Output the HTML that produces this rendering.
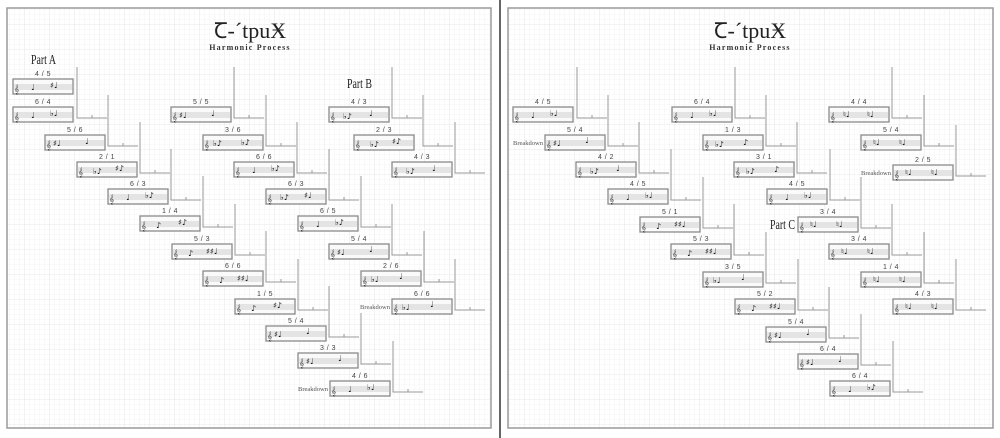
<!DOCTYPE html>
<html><head><meta charset="utf-8"><style>
html,body{margin:0;padding:0;background:#fff}
svg{display:block}
.bx{fill:#fafafa;stroke:#8a8a8a;stroke-width:1.3}
.bd{fill:#e4e4e4}
.c{font:9px "DejaVu Sans",sans-serif;fill:#333}
.n{font:bold 8px "DejaVu Sans",sans-serif;fill:#111}
.lb{font:7px "Liberation Sans",sans-serif;fill:#444;text-anchor:middle;letter-spacing:.5px}
.br{fill:none;stroke:#999;stroke-width:1}
.bk{font:6.5px "Liberation Serif",serif;fill:#555;text-anchor:end}
.pt{font:14px "Liberation Serif",serif;fill:#222}
.tt{font:22px "Liberation Serif",serif;fill:#222;text-anchor:middle}
.st{font:bold 8px "Liberation Serif",serif;fill:#333;text-anchor:middle;letter-spacing:1.2px}
</style></head><body>
<svg width="1000" height="438" viewBox="0 0 1000 438" xmlns="http://www.w3.org/2000/svg">
<defs>
<pattern id="g" width="5" height="5" patternUnits="userSpaceOnUse"><path d="M5 0V5H0" fill="none" stroke="#ececec" stroke-width=".6"/></pattern>
<pattern id="G" width="25" height="25" patternUnits="userSpaceOnUse"><rect width="25" height="25" fill="url(#g)"/><path d="M25 0V25H0" fill="none" stroke="#dedede" stroke-width=".6"/></pattern>
</defs>
<rect x="7" y="8" width="484" height="420" fill="url(#G)" stroke="#9a9a9a" stroke-width="1.5"/>
<rect x="508" y="8" width="485" height="420" fill="url(#G)" stroke="#9a9a9a" stroke-width="1.5"/>
<line x1="500" y1="0" x2="500" y2="438" stroke="#333" stroke-width="1.5"/>

<text class="tt" x="250" y="38">Ꞇ-´tpuӾ</text><text class="st" x="250" y="50">Harmonic Process</text>
<text class="tt" x="750" y="38">Ꞇ-´tpuӾ</text><text class="st" x="750" y="50">Harmonic Process</text>
<text class="pt" x="31" y="64" textLength="25" lengthAdjust="spacingAndGlyphs">Part A</text>
<text class="pt" x="347" y="88" textLength="25" lengthAdjust="spacingAndGlyphs">Part B</text>
<text class="pt" x="770" y="229" textLength="25" lengthAdjust="spacingAndGlyphs">Part C</text>

<!-- LEFT: Part A -->
<g transform="translate(13,79)"><rect class="bx" width="60" height="15"/><rect class="bd" x="1" y="5" width="58" height="6"/><text class="c" x="1" y="13">𝄞</text><text class="n" x="18" y="11">♩</text><text class="n" x="37" y="9">♯♩</text><text class="lb" x="30" y="-3">4 / 5</text></g>
<g transform="translate(13,107)"><rect class="bx" width="60" height="15"/><rect class="bd" x="1" y="5" width="58" height="6"/><text class="c" x="1" y="13">𝄞</text><text class="n" x="18" y="11">♩</text><text class="n" x="37" y="9">♭♩</text><text class="lb" x="30" y="-3">6 / 4</text><path class="br" d="M64 -40V11H94M79 11v-3"/></g>
<g transform="translate(45,135)"><rect class="bx" width="60" height="15"/><rect class="bd" x="1" y="5" width="58" height="6"/><text class="c" x="1" y="13">𝄞</text><text class="n" x="8" y="11">♯♩</text><text class="n" x="40" y="9">♩</text><text class="lb" x="30" y="-3">5 / 6</text><path class="br" d="M63 -40V11H93M78 11v-3"/></g>
<g transform="translate(77,162)"><rect class="bx" width="60" height="15"/><rect class="bd" x="1" y="5" width="58" height="6"/><text class="c" x="1" y="13">𝄞</text><text class="n" x="16" y="12">♭♪</text><text class="n" x="38" y="9">♯♪</text><text class="lb" x="30" y="-3">2 / 1</text><path class="br" d="M63 -40V11H93M78 11v-3"/></g>
<g transform="translate(108,189)"><rect class="bx" width="60" height="15"/><rect class="bd" x="1" y="5" width="58" height="6"/><text class="c" x="1" y="13">𝄞</text><text class="n" x="18" y="11">♩</text><text class="n" x="37" y="9">♭♪</text><text class="lb" x="30" y="-3">6 / 3</text><path class="br" d="M63 -40V11H93M78 11v-3"/></g>
<g transform="translate(140,216)"><rect class="bx" width="60" height="15"/><rect class="bd" x="1" y="5" width="58" height="6"/><text class="c" x="1" y="13">𝄞</text><text class="n" x="16" y="12">♪</text><text class="n" x="38" y="9">♯♪</text><text class="lb" x="30" y="-3">1 / 4</text><path class="br" d="M63 -40V11H93M78 11v-3"/></g>
<g transform="translate(172,244)"><rect class="bx" width="60" height="15"/><rect class="bd" x="1" y="5" width="58" height="6"/><text class="c" x="1" y="13">𝄞</text><text class="n" x="16" y="12">♪</text><text class="n" x="34" y="10">♯♯♩</text><text class="lb" x="30" y="-3">5 / 3</text><path class="br" d="M63 -40V11H93M78 11v-3"/></g>
<g transform="translate(203,271)"><rect class="bx" width="60" height="15"/><rect class="bd" x="1" y="5" width="58" height="6"/><text class="c" x="1" y="13">𝄞</text><text class="n" x="16" y="12">♪</text><text class="n" x="34" y="10">♯♯♩</text><text class="lb" x="30" y="-3">6 / 6</text><path class="br" d="M63 -40V11H93M78 11v-3"/></g>
<g transform="translate(235,299)"><rect class="bx" width="60" height="15"/><rect class="bd" x="1" y="5" width="58" height="6"/><text class="c" x="1" y="13">𝄞</text><text class="n" x="16" y="12">♪</text><text class="n" x="38" y="9">♯♪</text><text class="lb" x="30" y="-3">1 / 5</text><path class="br" d="M63 -40V11H93M78 11v-3"/></g>
<g transform="translate(266,326)"><rect class="bx" width="60" height="15"/><rect class="bd" x="1" y="5" width="58" height="6"/><text class="c" x="1" y="13">𝄞</text><text class="n" x="8" y="11">♯♩</text><text class="n" x="40" y="8">♩</text><text class="lb" x="30" y="-3">5 / 4</text><path class="br" d="M63 -40V11H93M78 11v-3"/></g>
<g transform="translate(298,353)"><rect class="bx" width="60" height="15"/><rect class="bd" x="1" y="5" width="58" height="6"/><text class="c" x="1" y="13">𝄞</text><text class="n" x="8" y="11">♯♩</text><text class="n" x="40" y="8">♩</text><text class="lb" x="30" y="-3">3 / 3</text><path class="br" d="M63 -40V11H93M78 11v-3"/></g>
<g transform="translate(330,381)"><rect class="bx" width="60" height="15"/><rect class="bd" x="1" y="5" width="58" height="6"/><text class="c" x="1" y="13">𝄞</text><text class="n" x="18" y="11">♩</text><text class="n" x="37" y="9">♭♩</text><text class="lb" x="30" y="-3">4 / 6</text><text class="bk" x="-2" y="10">Breakdown</text><path class="br" d="M63 -40V11H93M78 11v-3"/></g>

<!-- LEFT: Part B lower -->
<g transform="translate(171,107)"><rect class="bx" width="60" height="15"/><rect class="bd" x="1" y="5" width="58" height="6"/><text class="c" x="1" y="13">𝄞</text><text class="n" x="8" y="11">♯♩</text><text class="n" x="40" y="9">♩</text><text class="lb" x="30" y="-3">5 / 5</text><path class="br" d="M63 -40V11H93M78 11v-3"/></g>
<g transform="translate(203,135)"><rect class="bx" width="60" height="15"/><rect class="bd" x="1" y="5" width="58" height="6"/><text class="c" x="1" y="13">𝄞</text><text class="n" x="10" y="11">♭♪</text><text class="n" x="38" y="10">♭♪</text><text class="lb" x="30" y="-3">3 / 6</text><path class="br" d="M63 -40V11H93M78 11v-3"/></g>
<g transform="translate(234,162)"><rect class="bx" width="60" height="15"/><rect class="bd" x="1" y="5" width="58" height="6"/><text class="c" x="1" y="13">𝄞</text><text class="n" x="18" y="11">♩</text><text class="n" x="37" y="9">♭♪</text><text class="lb" x="30" y="-3">6 / 6</text><path class="br" d="M63 -40V11H93M78 11v-3"/></g>
<g transform="translate(266,189)"><rect class="bx" width="60" height="15"/><rect class="bd" x="1" y="5" width="58" height="6"/><text class="c" x="1" y="13">𝄞</text><text class="n" x="14" y="11">♭♪</text><text class="n" x="38" y="9">♯♩</text><text class="lb" x="30" y="-3">6 / 3</text><path class="br" d="M63 -40V11H93M78 11v-3"/></g>
<g transform="translate(298,216)"><rect class="bx" width="60" height="15"/><rect class="bd" x="1" y="5" width="58" height="6"/><text class="c" x="1" y="13">𝄞</text><text class="n" x="18" y="11">♩</text><text class="n" x="37" y="9">♭♪</text><text class="lb" x="30" y="-3">6 / 5</text><path class="br" d="M63 -40V11H93M78 11v-3"/></g>
<g transform="translate(329,244)"><rect class="bx" width="60" height="15"/><rect class="bd" x="1" y="5" width="58" height="6"/><text class="c" x="1" y="13">𝄞</text><text class="n" x="8" y="11">♯♩</text><text class="n" x="40" y="8">♩</text><text class="lb" x="30" y="-3">5 / 4</text><path class="br" d="M63 -40V11H93M78 11v-3"/></g>
<g transform="translate(361,271)"><rect class="bx" width="60" height="15"/><rect class="bd" x="1" y="5" width="58" height="6"/><text class="c" x="1" y="13">𝄞</text><text class="n" x="10" y="11">♭♩</text><text class="n" x="38" y="8">♩</text><text class="lb" x="30" y="-3">2 / 6</text><path class="br" d="M63 -40V11H93M78 11v-3"/></g>
<g transform="translate(392,299)"><rect class="bx" width="60" height="15"/><rect class="bd" x="1" y="5" width="58" height="6"/><text class="c" x="1" y="13">𝄞</text><text class="n" x="10" y="11">♭♩</text><text class="n" x="38" y="8">♩</text><text class="lb" x="30" y="-3">6 / 6</text><text class="bk" x="-2" y="10">Breakdown</text><path class="br" d="M63 -40V11H93M78 11v-3"/></g>

<!-- LEFT: Part B upper -->
<g transform="translate(329,107)"><rect class="bx" width="60" height="15"/><rect class="bd" x="1" y="5" width="58" height="6"/><text class="c" x="1" y="13">𝄞</text><text class="n" x="14" y="12">♭♪</text><text class="n" x="40" y="9">♩</text><text class="lb" x="30" y="-3">4 / 3</text><path class="br" d="M63 -40V11H93M78 11v-3"/></g>
<g transform="translate(354,135)"><rect class="bx" width="60" height="15"/><rect class="bd" x="1" y="5" width="58" height="6"/><text class="c" x="1" y="13">𝄞</text><text class="n" x="16" y="12">♭♪</text><text class="n" x="38" y="9">♯♪</text><text class="lb" x="30" y="-3">2 / 3</text><path class="br" d="M69 -40V11H99M84 11v-3"/></g>
<g transform="translate(392,162)"><rect class="bx" width="60" height="15"/><rect class="bd" x="1" y="5" width="58" height="6"/><text class="c" x="1" y="13">𝄞</text><text class="n" x="14" y="12">♭♪</text><text class="n" x="40" y="9">♩</text><text class="lb" x="30" y="-3">4 / 3</text><path class="br" d="M63 -40V11H93M78 11v-3"/></g>

<!-- RIGHT: chain 1 -->
<g transform="translate(513,107)"><rect class="bx" width="60" height="15"/><rect class="bd" x="1" y="5" width="58" height="6"/><text class="c" x="1" y="13">𝄞</text><text class="n" x="18" y="11">♩</text><text class="n" x="37" y="9">♭♩</text><text class="lb" x="30" y="-3">4 / 5</text><path class="br" d="M64 -40V11H94M79 11v-3"/></g>
<g transform="translate(545,135)"><rect class="bx" width="60" height="15"/><rect class="bd" x="1" y="5" width="58" height="6"/><text class="c" x="1" y="13">𝄞</text><text class="n" x="8" y="11">♯♩</text><text class="n" x="40" y="8">♩</text><text class="lb" x="30" y="-3">5 / 4</text><text class="bk" x="-2" y="10">Breakdown</text><path class="br" d="M63 -40V11H93M78 11v-3"/></g>
<g transform="translate(576,162)"><rect class="bx" width="60" height="15"/><rect class="bd" x="1" y="5" width="58" height="6"/><text class="c" x="1" y="13">𝄞</text><text class="n" x="14" y="12">♭♪</text><text class="n" x="40" y="9">♩</text><text class="lb" x="30" y="-3">4 / 2</text><path class="br" d="M63 -40V11H93M78 11v-3"/></g>
<g transform="translate(608,189)"><rect class="bx" width="60" height="15"/><rect class="bd" x="1" y="5" width="58" height="6"/><text class="c" x="1" y="13">𝄞</text><text class="n" x="18" y="11">♩</text><text class="n" x="37" y="9">♭♩</text><text class="lb" x="30" y="-3">4 / 5</text><path class="br" d="M63 -40V11H93M78 11v-3"/></g>
<g transform="translate(640,217)"><rect class="bx" width="60" height="15"/><rect class="bd" x="1" y="5" width="58" height="6"/><text class="c" x="1" y="13">𝄞</text><text class="n" x="16" y="12">♪</text><text class="n" x="34" y="10">♯♯♩</text><text class="lb" x="30" y="-3">5 / 1</text><path class="br" d="M63 -40V11H93M78 11v-3"/></g>
<g transform="translate(671,244)"><rect class="bx" width="60" height="15"/><rect class="bd" x="1" y="5" width="58" height="6"/><text class="c" x="1" y="13">𝄞</text><text class="n" x="16" y="12">♪</text><text class="n" x="34" y="10">♯♯♩</text><text class="lb" x="30" y="-3">5 / 3</text><path class="br" d="M63 -40V11H93M78 11v-3"/></g>
<g transform="translate(703,272)"><rect class="bx" width="60" height="15"/><rect class="bd" x="1" y="5" width="58" height="6"/><text class="c" x="1" y="13">𝄞</text><text class="n" x="10" y="11">♭♩</text><text class="n" x="38" y="8">♩</text><text class="lb" x="30" y="-3">3 / 5</text><path class="br" d="M63 -40V11H93M78 11v-3"/></g>
<g transform="translate(735,299)"><rect class="bx" width="60" height="15"/><rect class="bd" x="1" y="5" width="58" height="6"/><text class="c" x="1" y="13">𝄞</text><text class="n" x="16" y="12">♪</text><text class="n" x="34" y="10">♯♯♩</text><text class="lb" x="30" y="-3">5 / 2</text><path class="br" d="M63 -40V11H93M78 11v-3"/></g>
<g transform="translate(766,327)"><rect class="bx" width="60" height="15"/><rect class="bd" x="1" y="5" width="58" height="6"/><text class="c" x="1" y="13">𝄞</text><text class="n" x="8" y="11">♯♩</text><text class="n" x="40" y="8">♩</text><text class="lb" x="30" y="-3">5 / 4</text><path class="br" d="M63 -40V11H93M78 11v-3"/></g>
<g transform="translate(798,354)"><rect class="bx" width="60" height="15"/><rect class="bd" x="1" y="5" width="58" height="6"/><text class="c" x="1" y="13">𝄞</text><text class="n" x="8" y="11">♯♩</text><text class="n" x="40" y="8">♩</text><text class="lb" x="30" y="-3">6 / 4</text><path class="br" d="M63 -40V11H93M78 11v-3"/></g>
<g transform="translate(830,381)"><rect class="bx" width="60" height="15"/><rect class="bd" x="1" y="5" width="58" height="6"/><text class="c" x="1" y="13">𝄞</text><text class="n" x="18" y="11">♩</text><text class="n" x="37" y="9">♭♪</text><text class="lb" x="30" y="-3">6 / 4</text><path class="br" d="M63 -40V11H93M78 11v-3"/></g>

<!-- RIGHT: chain 2 -->
<g transform="translate(672,107)"><rect class="bx" width="60" height="15"/><rect class="bd" x="1" y="5" width="58" height="6"/><text class="c" x="1" y="13">𝄞</text><text class="n" x="18" y="11">♩</text><text class="n" x="37" y="9">♭♩</text><text class="lb" x="30" y="-3">6 / 4</text><path class="br" d="M63 -40V11H93M78 11v-3"/></g>
<g transform="translate(703,135)"><rect class="bx" width="60" height="15"/><rect class="bd" x="1" y="5" width="58" height="6"/><text class="c" x="1" y="13">𝄞</text><text class="n" x="12" y="12">♭♪</text><text class="n" x="40" y="10">♪</text><text class="lb" x="30" y="-3">1 / 3</text><path class="br" d="M63 -40V11H93M78 11v-3"/></g>
<g transform="translate(734,162)"><rect class="bx" width="60" height="15"/><rect class="bd" x="1" y="5" width="58" height="6"/><text class="c" x="1" y="13">𝄞</text><text class="n" x="12" y="12">♭♪</text><text class="n" x="40" y="10">♪</text><text class="lb" x="30" y="-3">3 / 1</text><path class="br" d="M63 -40V11H93M78 11v-3"/></g>
<g transform="translate(767,189)"><rect class="bx" width="60" height="15"/><rect class="bd" x="1" y="5" width="58" height="6"/><text class="c" x="1" y="13">𝄞</text><text class="n" x="18" y="11">♩</text><text class="n" x="37" y="9">♭♩</text><text class="lb" x="30" y="-3">4 / 5</text><path class="br" d="M63 -40V11H93M78 11v-3"/></g>
<g transform="translate(798,217)"><rect class="bx" width="60" height="15"/><rect class="bd" x="1" y="5" width="58" height="6"/><text class="c" x="1" y="13">𝄞</text><text class="n" x="12" y="10">♮♩</text><text class="n" x="38" y="10">♮♩</text><text class="lb" x="30" y="-3">3 / 4</text><path class="br" d="M63 -40V11H93M78 11v-3"/></g>
<g transform="translate(829,244)"><rect class="bx" width="60" height="15"/><rect class="bd" x="1" y="5" width="58" height="6"/><text class="c" x="1" y="13">𝄞</text><text class="n" x="12" y="10">♮♩</text><text class="n" x="38" y="10">♮♩</text><text class="lb" x="30" y="-3">3 / 4</text><path class="br" d="M63 -40V11H93M78 11v-3"/></g>
<g transform="translate(861,272)"><rect class="bx" width="60" height="15"/><rect class="bd" x="1" y="5" width="58" height="6"/><text class="c" x="1" y="13">𝄞</text><text class="n" x="12" y="10">♮♩</text><text class="n" x="38" y="10">♮♩</text><text class="lb" x="30" y="-3">1 / 4</text><path class="br" d="M63 -40V11H93M78 11v-3"/></g>
<g transform="translate(893,299)"><rect class="bx" width="60" height="15"/><rect class="bd" x="1" y="5" width="58" height="6"/><text class="c" x="1" y="13">𝄞</text><text class="n" x="12" y="10">♮♩</text><text class="n" x="38" y="10">♮♩</text><text class="lb" x="30" y="-3">4 / 3</text><path class="br" d="M63 -40V11H93M78 11v-3"/></g>

<!-- RIGHT: chain 3 -->
<g transform="translate(829,107)"><rect class="bx" width="60" height="15"/><rect class="bd" x="1" y="5" width="58" height="6"/><text class="c" x="1" y="13">𝄞</text><text class="n" x="14" y="10">♮♩</text><text class="n" x="38" y="10">♮♩</text><text class="lb" x="30" y="-3">4 / 4</text><path class="br" d="M63 -40V11H93M78 11v-3"/></g>
<g transform="translate(861,135)"><rect class="bx" width="60" height="15"/><rect class="bd" x="1" y="5" width="58" height="6"/><text class="c" x="1" y="13">𝄞</text><text class="n" x="12" y="10">♮♩</text><text class="n" x="38" y="10">♮♩</text><text class="lb" x="30" y="-3">5 / 4</text><path class="br" d="M63 -40V11H93M78 11v-3"/></g>
<g transform="translate(893,165)"><rect class="bx" width="60" height="15"/><rect class="bd" x="1" y="5" width="58" height="6"/><text class="c" x="1" y="13">𝄞</text><text class="n" x="12" y="10">♮♩</text><text class="n" x="38" y="10">♮♩</text><text class="lb" x="30" y="-3">2 / 5</text><text class="bk" x="-2" y="10">Breakdown</text><path class="br" d="M63 -40V11H93M78 11v-3"/></g>
</svg>
</body></html>
